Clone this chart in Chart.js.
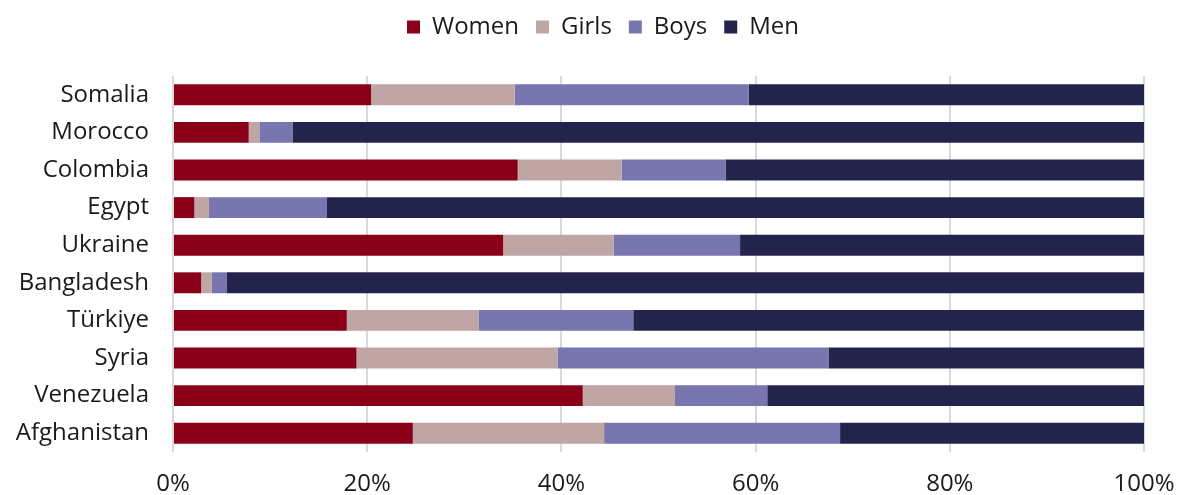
<!DOCTYPE html>
<html>
<head>
<meta charset="utf-8">
<script src="https://cdn.jsdelivr.net/npm/chart.js@4.4.0/dist/chart.umd.min.js"></script>
<style>
  html, body { margin: 0; padding: 0; background: #ffffff; }
  #wrap { width: 1181px; height: 495px; position: relative; }
</style>
</head>
<body>
<div id="wrap"><canvas id="c"></canvas></div>
<script>
const categories = ["Somalia", "Morocco", "Colombia", "Egypt", "Ukraine", "Bangladesh", "Türkiye", "Syria", "Venezuela", "Afghanistan"];
const women = [20.4, 7.8, 35.5, 2.2, 34.0, 2.9, 17.9, 18.9, 42.2, 24.7];
const girls = [14.8, 1.1, 10.7, 1.5, 11.4, 1.1, 13.6, 20.7, 9.5, 19.7];
const boys  = [24.1, 3.4, 10.7, 12.1, 13.0, 1.5, 15.9, 27.9, 9.5, 24.3];
const men   = [40.7, 87.7, 43.1, 84.2, 41.6, 94.5, 52.6, 32.5, 38.8, 31.3];
const xTicks = [0, 20, 40, 60, 80, 100];

const FONT = "'Open Sans', sans-serif";
const FS = 24;
const mk = (label, data, color) => ({
  label, data, backgroundColor: color, borderWidth: 0,
  barPercentage: 0.557, categoryPercentage: 1.0
});

const legendBox = {
  id: 'legendBox',
  beforeInit(chart) {
    const lg = chart.legend;
    const origFit = lg.fit;
    lg.fit = function () {
      origFit.call(this);
      this.height = 76;
    };
  },
  afterLayout(chart) {
    const lg = chart.legend;
    lg.left = 62;
    lg.top = -2;
  }
};

new Chart(document.getElementById('c'), {
  type: 'bar',
  data: {
    labels: categories,
    datasets: [
      mk('Women', women, '#8a0019'),
      mk('Girls', girls, '#c0a5a5'),
      mk('Boys', boys, '#7975ae'),
      mk('Men', men, '#24234b')
    ]
  },
  plugins: [legendBox],
  options: {
    indexAxis: 'y',
    responsive: true,
    maintainAspectRatio: false,
    animation: false,
    layout: { padding: { left: 0, right: 37, top: 0, bottom: 0 } },
    plugins: {
      tooltip: { enabled: false },
      legend: {
        position: 'top',
        labels: {
          boxWidth: 13, boxHeight: 13, padding: 17,
          color: '#1a1a1a',
          font: { family: FONT, size: FS }
        }
      }
    },
    scales: {
      x: {
        stacked: true,
        min: 0, max: 100,
        afterBuildTicks: (axis) => { axis.ticks = xTicks.map(v => ({ value: v })); },
        afterFit: (axis) => { axis.height = 43; axis.paddingLeft = 0; axis.paddingRight = 0; },
        grid: { color: '#d9d9d9', lineWidth: 2, drawTicks: false },
        border: { display: false },
        ticks: {
          padding: 18,
          color: '#1a1a1a',
          font: { family: FONT, size: FS },
          callback: (v) => v + '%'
        }
      },
      y: {
        stacked: true,
        grid: { display: false },
        border: { display: false },
        afterFit: (axis) => { axis.width = 173; },
        ticks: {
          padding: 16,
          color: '#1a1a1a',
          font: { family: FONT, size: FS }
        }
      }
    }
  }
});
</script>
</body>
</html>
